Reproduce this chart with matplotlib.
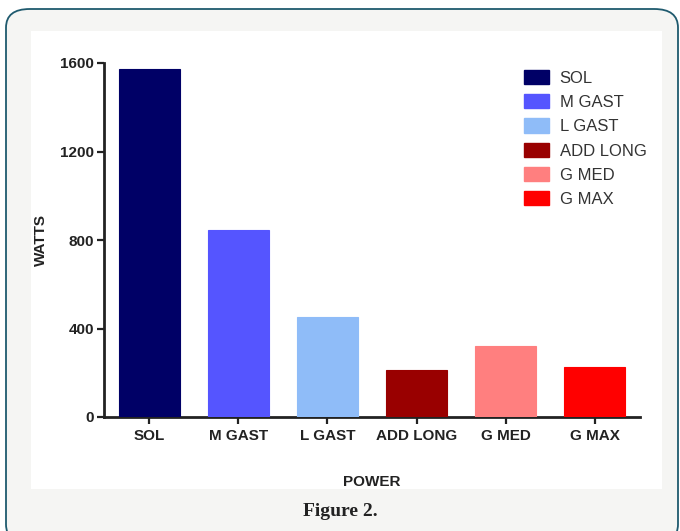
import matplotlib
matplotlib.use("Agg")
import matplotlib.pyplot as plt
from matplotlib.patches import FancyBboxPatch, Rectangle, Patch

# data
muscles = ["SOL", "M GAST", "L GAST", "ADD LONG", "G MED", "G MAX"]
watts = [1573, 845, 453, 212, 322, 227]
colors = ["#000066", "#5555ff", "#8fbcf8", "#990000", "#ff7f7f", "#ff0000"]
yticks = [0, 400, 800, 1200, 1600]

W, H = 680, 531
fig = plt.figure(figsize=(W / 100, H / 100), dpi=100)
fig.patch.set_facecolor("white")

# outer rounded frame + inner white panel
fig.patches.append(FancyBboxPatch((6 / W, -12 / H), 672 / W, (H - 9 + 12) / H,
                                  boxstyle="round,pad=0,rounding_size=0.035",
                                  transform=fig.transFigure, facecolor="#f5f5f3",
                                  edgecolor="#1f5a6e", lw=1.3, zorder=0))
fig.patches.append(Rectangle((31 / W, (H - 489) / H), 631 / W, 458 / H,
                             transform=fig.transFigure, facecolor="white",
                             edgecolor="none", zorder=1))

ax = fig.add_axes([104 / W, (H - 417) / H, 536 / W, 354 / H])
ax.set_zorder(5)
ax.set_facecolor("none")
x = list(range(len(muscles)))
ax.bar(x, watts, width=0.69, color=colors, edgecolor=colors, lw=0.8, zorder=3)

ax.set_xlim(-0.51, 5.51)
ax.set_ylim(0, 1600)
ax.set_yticks(yticks)
ax.set_xticks(x)
ax.set_xticklabels(muscles)
for s in ["top", "right"]:
    ax.spines[s].set_visible(False)
for s in ["left", "bottom"]:
    ax.spines[s].set_linewidth(2)
    ax.spines[s].set_color("#222222")
ax.tick_params(axis="both", direction="out", length=5, width=1.6, color="#222222",
               labelsize=11, labelcolor="#222222")
ax.tick_params(axis="y", pad=2)
ax.tick_params(axis="x", pad=4)
for lab in ax.get_xticklabels() + ax.get_yticklabels():
    lab.set_fontfamily("Liberation Sans")
    lab.set_fontweight("bold")

fig.text(41 / W, 1 - 240 / H, "WATTS", rotation=90, ha="center", va="center",
         fontsize=11, fontweight="bold", family="Liberation Sans", color="#222222",
         zorder=6)
fig.text(372 / W, 1 - 482 / H, "POWER", ha="center", va="center",
         fontsize=11, fontweight="bold", family="Liberation Sans", color="#222222",
         zorder=6)
fig.text(340 / W, 1 - 512 / H, "Figure 2.", ha="center", va="center",
         fontsize=14, fontweight="bold", family="Liberation Serif", color="#222222",
         zorder=6)

handles = [Patch(facecolor=c, edgecolor=c) for c in colors]
leg = ax.legend(handles, muscles, loc="upper left", bbox_to_anchor=(0.755, 1.023),
                frameon=False, handlelength=1.5, handleheight=0.95,
                labelspacing=0.5, handletextpad=0.65,
                prop={"family": "Liberation Sans", "size": 12})
for t in leg.get_texts():
    t.set_color("#333333")

fig.savefig("out.png", dpi=100)
